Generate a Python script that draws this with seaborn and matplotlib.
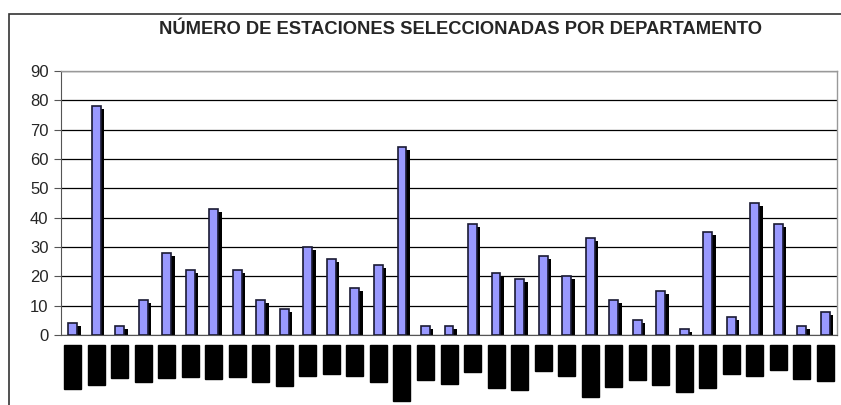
import matplotlib
matplotlib.use("Agg")
import matplotlib.pyplot as plt
import matplotlib.transforms as mtransforms
from matplotlib.patches import Rectangle
import seaborn as sns
import pandas as pd
import numpy as np

departamentos = ["Amazonas", "Antioquia", "Arauca", "Atlántico", "Bogotá", "Bolívar",
                 "Boyacá", "Caldas", "Caquetá", "Casanare", "Cauca", "Cesar", "Chocó",
                 "Córdoba", "Cundinamarca", "Guainía", "Guaviare", "Huila", "La Guajira",
                 "Magdalena", "Meta", "Nariño", "N. Santander", "Putumayo", "Quindío",
                 "Risaralda", "San Andrés", "Santander", "Sucre", "Tolima", "Valle",
                 "Vaupés", "Vichada"]
estaciones = [4, 78, 3, 12, 28, 22, 43, 22, 12, 9, 30, 26, 16, 24, 64, 3, 3, 38, 21,
              19, 27, 20, 33, 12, 5, 15, 2, 35, 6, 45, 38, 3, 8]
y_ticks = [0, 10, 20, 30, 40, 50, 60, 70, 80, 90]
titulo = "NÚMERO DE ESTACIONES SELECCIONADAS POR DEPARTAMENTO"

df = pd.DataFrame({"dep": departamentos, "n": estaciones})

sns.set_style("white")
plt.rcParams["font.family"] = ["Liberation Sans", "DejaVu Sans"]

W, H = 841, 405
fig = plt.figure(figsize=(W / 100, H / 100), dpi=100)
ax = fig.add_axes([61 / W, 1 - 335 / H, (837 - 61) / W, (335 - 71) / H])

# outer frame of the chart area
fig.patches.append(Rectangle((9 / W, -0.1), 1.2, 1 - 14 / H + 0.1, transform=fig.transFigure,
                             fill=False, edgecolor="#333333", linewidth=1.2, zorder=0))

# shadow bars (offset right and down)
shadow_tr = mtransforms.offset_copy(ax.transData, fig=fig, x=3.5, y=-3, units="dots")
sns.barplot(data=df, x="dep", y="n", ax=ax, color="black", width=0.38,
            saturation=1, edgecolor="black", linewidth=0, zorder=2)
for p in ax.patches:
    p.set_transform(shadow_tr)
sns.barplot(data=df, x="dep", y="n", ax=ax, color="#9999FF", width=0.38,
            saturation=1, edgecolor="#1a1a33", linewidth=1.2, zorder=3)

ax.set_ylim(0, 90)
ax.set_xlim(-0.5, len(departamentos) - 0.5)
ax.set_yticks(y_ticks)
ax.set_yticklabels([str(v) for v in y_ticks], fontsize=12)
ax.yaxis.grid(True, color="black", linewidth=0.9)
ax.set_axisbelow(True)
ax.set_xlabel("")
ax.set_ylabel("")

# ticks at category boundaries, labels at centres
ax.set_xticks(np.arange(-0.5, len(departamentos), 1.0))
ax.set_xticklabels([])
ax.set_xticks(np.arange(len(departamentos)), minor=True)
ax.set_xticklabels(departamentos, minor=True, rotation=90, fontsize=5, color="black",
                   va="top", ha="center",
                   bbox=dict(facecolor="black", edgecolor="black", pad=3.6))
ax.tick_params(axis="x", which="major", length=4, width=0.8, color="#555555", direction="out")
ax.tick_params(axis="x", which="minor", length=0, pad=11)
ax.tick_params(axis="y", length=5, width=0.8, color="#555555", direction="out", pad=4, left=True)

for side in ["top", "right"]:
    ax.spines[side].set_color("#999999")
    ax.spines[side].set_linewidth(1.0)
ax.spines["left"].set_color("#555555")
ax.spines["bottom"].set_color("#555555")

fig.text(460 / W, 1 - 30 / H, titulo, ha="center", va="center", fontsize=13.2, fontweight="bold")

fig.savefig("out.png", dpi=100)
